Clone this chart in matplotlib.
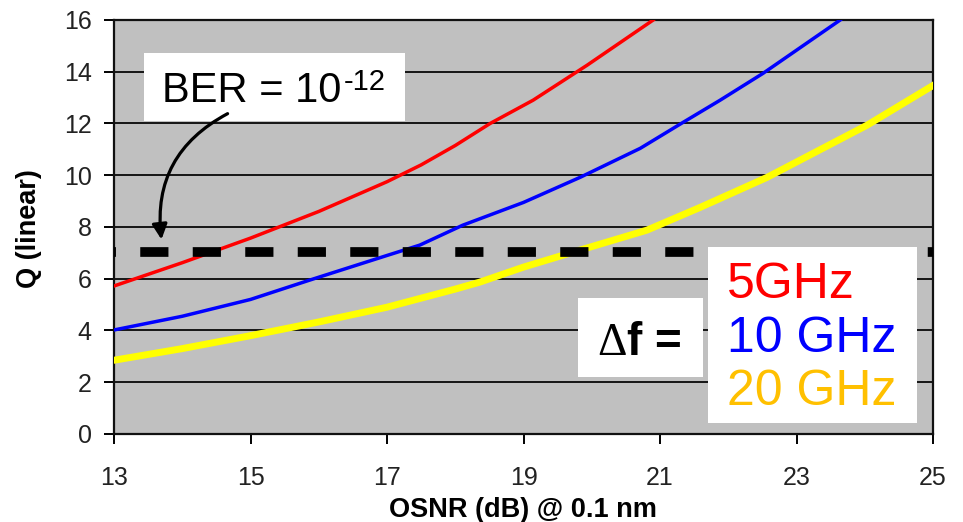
import numpy as np
import matplotlib.pyplot as plt
from matplotlib.patches import Rectangle

plt.rcParams['font.family'] = ['Liberation Sans', 'DejaVu Sans']

# Q factor vs OSNR for three receiver bandwidths
osnr_5 = [13, 14, 15, 16, 17, 17.5, 18, 18.51, 19.14, 19.93, 20.9]
q_5 = [5.72, 6.62, 7.57, 8.6, 9.75, 10.4, 11.15, 12.0, 12.9, 14.25, 16.0]

osnr_10 = [13, 14, 15, 15.87, 17, 17.48, 18.11, 19, 19.83, 20.71, 21.31,
           21.88, 22.51, 23.64]
q_10 = [4.02, 4.55, 5.2, 5.95, 6.9, 7.3, 8.07, 8.95, 9.92, 11.04, 12.0,
        12.9, 13.94, 16.0]

osnr_20 = [13, 14, 15, 16, 17, 18, 18.36, 19, 19.73, 20.81, 21.59, 22.57,
           24.03, 25]
q_20 = [2.85, 3.3, 3.8, 4.33, 4.9, 5.6, 5.87, 6.45, 7.03, 7.88, 8.76, 9.92,
        11.93, 13.47]

q_ber = 7.03  # Q needed for BER = 1e-12
x_ticks = [13, 15, 17, 19, 21, 23, 25]
y_ticks = [0, 2, 4, 6, 8, 10, 12, 14, 16]

fig = plt.figure(figsize=(9.63, 5.22), dpi=100)
ax = fig.add_axes([0.1184, 0.1686, 0.8505, 0.7931])
ax.set_facecolor('#c0c0c0')

ax.plot(osnr_5, q_5, color='#ff0000', lw=2.5, zorder=3)
ax.plot(osnr_10, q_10, color='#0000ff', lw=2.5, zorder=3)
ax.plot(osnr_20, q_20, color='#ffff00', lw=5, zorder=3)
ax.axhline(q_ber, color='black', lw=7, linestyle=(2.7, (2.9, 2.5)),
           dash_capstyle='butt', zorder=3.5)

ax.set_xlim(13, 25)
ax.set_ylim(0, 16)
ax.set_xticks(x_ticks)
ax.set_yticks(y_ticks)
ax.yaxis.grid(True, color='#151515', lw=1.4)
ax.set_axisbelow(True)
for sp in ax.spines.values():
    sp.set_linewidth(1.6)
    sp.set_color('#111111')
ax.tick_params(direction='out', length=7, width=1.4, labelsize=18,
               labelcolor='#222222')
ax.tick_params(axis='x', pad=16)
ax.tick_params(axis='y', pad=9)

ax.set_xlabel('OSNR (dB) @ 0.1 nm', fontsize=19.5, fontweight='bold')
ax.set_ylabel('Q (linear)', fontsize=19.5, fontweight='bold')
ax.xaxis.set_label_coords(0.499, -0.152)
ax.yaxis.set_label_coords(-0.088, 0.495)

# BER callout with curved arrow
ax.add_patch(Rectangle((13.44, 12.08), 3.83, 2.63, facecolor='white',
                       edgecolor='none', zorder=4, clip_on=False))
ax.text(13.70, 12.82, 'BER = 10', fontsize=30,
        va='baseline', ha='left', zorder=5)
ax.text(16.36, 13.28, '-12', fontsize=21,
        va='baseline', ha='left', zorder=5)
ax.annotate('', xy=(13.70, 7.41), xytext=(14.70, 12.43),
            arrowprops=dict(arrowstyle='-|>,head_length=0.9,head_width=0.45',
                            color='black', lw=2.3,
                            connectionstyle='arc3,rad=0.35'),
            zorder=5)

# bandwidth labels
ax.add_patch(Rectangle((19.80, 2.20), 1.83, 3.05, facecolor='white',
                       edgecolor='none', zorder=4))
ax.text(20.08, 3.05, '\u0394', fontsize=33, family='Liberation Serif',
        va='baseline', ha='left', zorder=5)
ax.text(20.52, 3.05, 'f =', fontsize=33, fontweight='bold',
        va='baseline', ha='left', zorder=5)

ax.add_patch(Rectangle((21.70, 0.42), 3.07, 6.80, facecolor='white',
                       edgecolor='none', zorder=4))
ax.text(21.98, 5.25, '5GHz', color='#ff0000', fontsize=36,
        va='baseline', ha='left', zorder=5)
ax.text(21.98, 3.17, '10 GHz', color='#0000ff', fontsize=36,
        va='baseline', ha='left', zorder=5)
ax.text(21.98, 1.12, '20 GHz', color='#ffc000', fontsize=36,
        va='baseline', ha='left', zorder=5)

fig.savefig('out.png', dpi=100)
